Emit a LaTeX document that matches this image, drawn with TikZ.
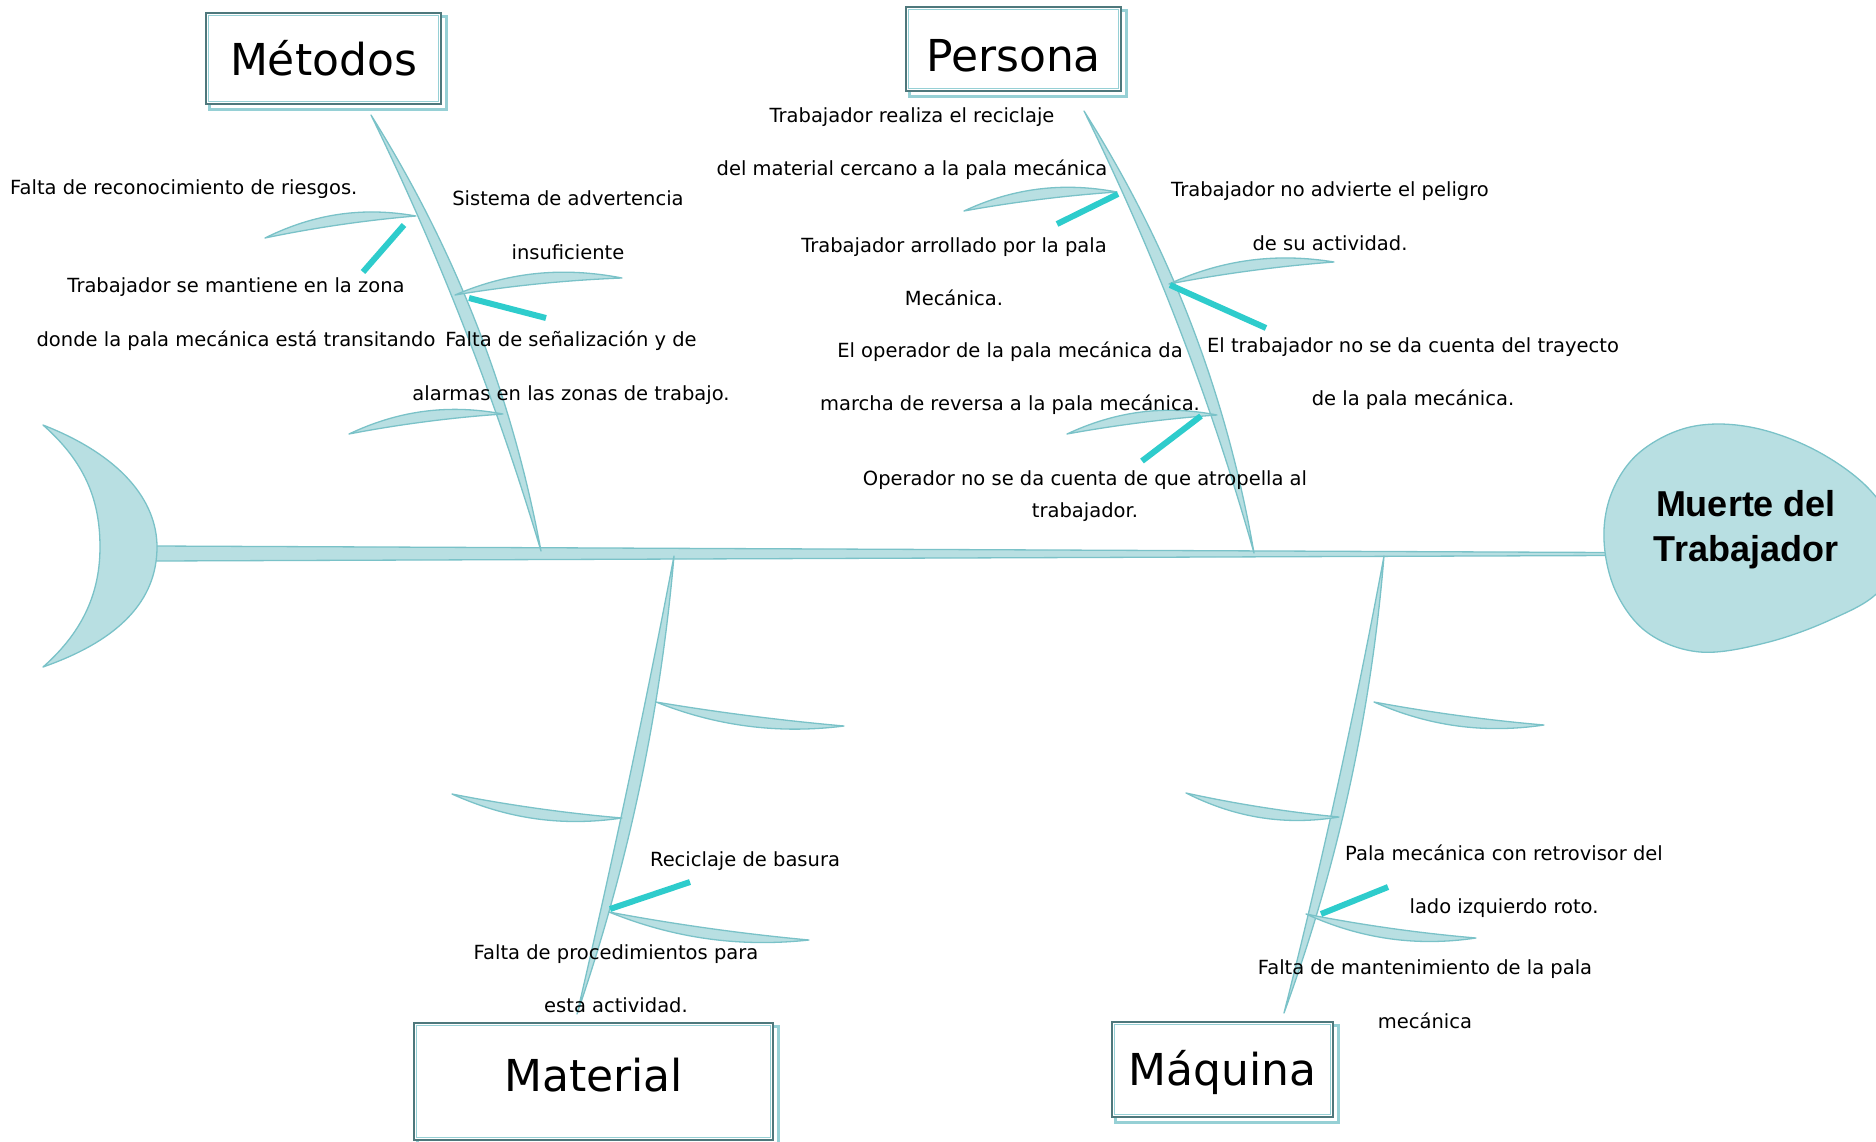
\documentclass[tikz,border=0pt]{standalone}
\usepackage{fontspec}
\setmainfont{DejaVu Sans}
\newfontfamily\headfont{Liberation Sans}
\usetikzlibrary{calc,backgrounds}

\definecolor{bonefill}{RGB}{184,223,226}
\definecolor{boneline}{RGB}{122,194,200}
\definecolor{barcyan}{RGB}{46,204,204}
\definecolor{boxdark}{RGB}{78,120,124}
\definecolor{boxlight}{RGB}{150,208,213}

% a pointed, bowed bone: start, quadratic control, end, half offset of the outline
\newcommand\fishleaf[4]{%
  \path ($(#1)!2/3!(#2)$) coordinate (lfa) ($(#3)!2/3!(#2)$) coordinate (lfb);
  \filldraw[bonestyle] (#1) .. controls ($(lfa)!#4!90:(#3)$) and ($(lfb)!#4!-90:(#1)$) .. (#3)
    .. controls ($(lfb)!#4!90:(#1)$) and ($(lfa)!#4!-90:(#3)$) .. (#1) -- cycle;
}
% category caption moved vertically without changing its box
\newcommand\shiftcap[2]{\raisebox{#1}[\height][\depth]{#2}}

\begin{document}
\begin{tikzpicture}[x=1pt,y=-1pt,
  bonestyle/.style={fill=bonefill, draw=boneline, line width=1.3pt, line join=round},
  bar/.style={draw=barcyan, line width=6pt},
  catbox/.style={draw=boxdark, line width=2pt, fill=white, inner sep=0pt,
    font=\fontsize{44}{50}\selectfont},
  boxinner/.style={draw=boxlight, line width=1.6pt},
  boxshadow/.style={draw=boxlight, line width=3pt},
  cause/.style={align=center, inner sep=0pt, font=\fontsize{19.5}{53.5}\selectfont},
  effect/.style={align=center, inner sep=0pt, font=\headfont\bfseries\fontsize{36}{45}\selectfont},
]
\useasboundingbox (0,0) rectangle (1876,1141);
\clip (0,0) rectangle (1876,1141);

% ---------- spine, tail and head ----------
\coordinate (spineL) at (155,553.5);
\coordinate (spineR) at (1610,554);
\filldraw[bonestyle] (155,546) -- (1610,552.5) -- (1610,555.5) -- (155,561) -- cycle;

\filldraw[bonestyle] (43,425) .. controls (120,455) and (157,500) .. (157,547)
  .. controls (157,600) and (120,640) .. (43,667)
  .. controls (85,630) and (100,590) .. (100,547)
  .. controls (100,500) and (85,462) .. (43,425) -- cycle;

\filldraw[bonestyle] plot[smooth cycle, tension=0.6] coordinates {
  (1604,540) (1612,492) (1640,452) (1690,427) (1750,427) (1815,450) (1870,490)
  (1898,540) (1880,590) (1830,620) (1765,643) (1700,652) (1648,633) (1616,592)};
\node[effect] (efecto) at (1746,530) {Muerte del\\Trabajador};

% ---------- main bones ----------
\coordinate (mTop) at (371,115);  \coordinate (mEnd) at (541,551);
\coordinate (pTop) at (1084,111); \coordinate (pEnd) at (1254,553);
\coordinate (tTop) at (674,556);  \coordinate (tEnd) at (577,1014);
\coordinate (qTop) at (1384,556); \coordinate (qEnd) at (1284,1013);
\fishleaf{mTop}{486,322}{mEnd}{8.5pt}
\fishleaf{pTop}{1201,319}{pEnd}{8.5pt}
\fishleaf{tTop}{642,788}{tEnd}{8pt}
\fishleaf{qTop}{1353,789}{qEnd}{8pt}

% ---------- secondary bones ----------
\fishleaf{265,238}{339,212}{416,216}{7pt}
\fishleaf{455,295}{535,271}{622,278}{7pt}
\fishleaf{349,434}{424,409}{503,414}{7pt}

\fishleaf{964,211}{1038,187}{1117,192}{7pt}
\fishleaf{1169,284}{1249,258}{1334,262}{7pt}
\fishleaf{1067,434}{1141,410}{1217,415}{7pt}

\fishleaf{656,702}{748,728}{844,726}{7pt}
\fishleaf{452,794}{535,821}{622,818}{7pt}
\fishleaf{609,912}{707,941}{809,940}{7pt}

\fishleaf{1374,702}{1457,728}{1544,725}{7pt}
\fishleaf{1186,793}{1261,820}{1339,817}{7pt}
\fishleaf{1306,914}{1389,941}{1476,938}{7pt}

% ---------- cause markers ----------
\coordinate (b1a) at (404,225);  \coordinate (b1b) at (363,272);
\coordinate (b2a) at (469,298);  \coordinate (b2b) at (546,318);
\coordinate (b3a) at (1118,194); \coordinate (b3b) at (1057,224);
\coordinate (b4a) at (1170,285); \coordinate (b4b) at (1266,328);
\coordinate (b5a) at (1201,416); \coordinate (b5b) at (1142,461);
\coordinate (b6a) at (610,909);  \coordinate (b6b) at (690,882);
\coordinate (b7a) at (1321,914); \coordinate (b7b) at (1388,887);
\foreach \i in {1,...,7} {\draw[bar] (b\i a) -- (b\i b);}

% ---------- category boxes ----------
\node[catbox, minimum width=235pt, minimum height=91pt] (metodos) at (323.5,58.5) {Métodos};
\node[catbox, minimum width=215pt, minimum height=84pt] (persona) at (1013.5,49) {\shiftcap{-7pt}{Persona}};
\node[catbox, minimum width=359pt, minimum height=117pt] (material) at (593.5,1081.5) {\shiftcap{6pt}{Material}};
\node[catbox, minimum width=221pt, minimum height=95pt] (maquina) at (1222.5,1069.5) {\shiftcap{-3pt}{Máquina}};
\foreach \n in {metodos,persona,material,maquina} {
  \draw[boxinner] ([shift={(3.5,3.5)}]\n.north west) rectangle ([shift={(-3.5,-3.5)}]\n.south east);
}
\begin{pgfonlayer}{background}
\foreach \n in {metodos,persona,material,maquina} {
  \draw[boxshadow] ([shift={(4.5,4.5)}]\n.north west) rectangle ([shift={(4.5,4.5)}]\n.south east);
}
\end{pgfonlayer}

% ---------- causes ----------
\node[cause, anchor=west] (c1) at (10,189) {Falta de reconocimiento de riesgos.};
\node[cause] (c2) at (568,225) {Sistema de advertencia\\insuficiente};
\node[cause] (c3) at (236,314) {Trabajador se mantiene en la zona\\donde la pala mecánica está transitando};
\node[cause] (c4) at (571,367.5) {Falta de señalización y de\\alarmas en las zonas de trabajo.};

\node[cause] (c5) at (912,143.5) {Trabajador realiza el reciclaje\\del material cercano a la pala mecánica};
\node[cause] (c6) at (954,271.5) {Trabajador arrollado por la pala\\Mecánica.};
\node[cause] (c7) at (1330,216) {Trabajador no advierte el peligro\\de su actividad.};
\node[cause] (c8) at (1010,378) {El operador de la pala mecánica da\\marcha de reversa a la pala mecánica.};
\node[cause] (c9) at (1413,373.5) {El trabajador no se da cuenta del trayecto\\de la pala mecánica.};
\node[cause, font=\fontsize{19.5}{32}\selectfont] (c10) at (1085,496) {Operador no se da cuenta de que atropella al\\trabajador.};

\node[cause] (c11) at (745,861) {Reciclaje de basura};
\node[cause] (c12) at (616,978.5) {Falta de procedimientos para\\esta actividad.};

\node[cause] (c13) at (1504,881) {Pala mecánica con retrovisor del\\lado izquierdo roto.};
\node[cause] (c14) at (1425,994) {Falta de mantenimiento de la pala\\mecánica};
\end{tikzpicture}
\end{document}
